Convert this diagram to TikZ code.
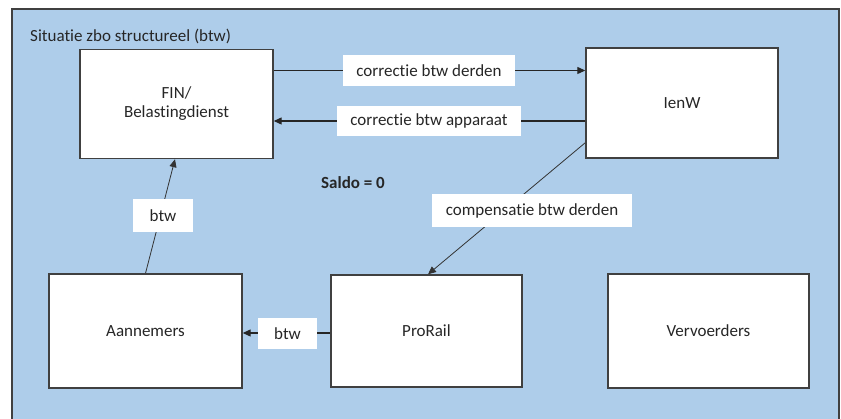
\documentclass[tikz,border=0pt]{standalone}
\usepackage{fontspec}
\setmainfont{Carlito}[Ligatures=NoCommon]
\usepackage{tikz}
\usetikzlibrary{arrows.meta}
\pgfdeclarelayer{back}
\pgfdeclarelayer{bg}
\pgfsetlayers{back,bg,main}
\definecolor{panelblue}{RGB}{174,205,234}
\definecolor{framegray}{RGB}{64,64,64}

\begin{document}
\begin{tikzpicture}[x=1pt, y=-1pt,
    party/.style={draw=framegray, line width=1.4pt, fill=white, inner sep=0pt,
        align=center, text=black!85, font=\fontsize{17}{19}\selectfont},
    tag/.style={fill=white, inner sep=0pt, text=black!85, font=\fontsize{17}{19}\selectfont},
    flow/.style={-{Triangle[length=8pt,width=7pt]}, draw=black!85, line width=1.2pt},
    thin flow/.style={-{Triangle[length=8pt,width=7pt]}, draw=black!80, line width=0.8pt}]
    \useasboundingbox (0,0) rectangle (841,419);
    \clip (0,0) rectangle (841,419);

    \node (fin) [party, minimum width=193pt, minimum height=109pt] at (176.5,104) {FIN/\\Belastingdienst};
    \node (ienw) [party, minimum width=192pt, minimum height=110pt] at (682,103) {IenW};
    \node (aann) [party, minimum width=193pt, minimum height=114pt] at (145.5,331) {Aannemers};
    \node (prorail) [party, minimum width=191pt, minimum height=112pt] at (426.5,331) {ProRail};
    \node (vervoer) [party, minimum width=201pt, minimum height=114pt] at (708.5,331) {Vervoerders};

    \node (cderden) [tag, minimum width=172pt, minimum height=31pt] at (429,70.5) {correctie btw derden};
    \node (capp) [tag, minimum width=184pt, minimum height=30pt] at (429,121) {correctie btw apparaat};
    \node (comp) [tag, minimum width=200pt, minimum height=33pt] at (532,211) {compensatie btw derden};
    \node (btwup) [tag, minimum width=60pt, minimum height=33pt] at (163,215.5) {btw};
    \node (btwleft) [tag, minimum width=59pt, minimum height=31pt] at (287.5,333.5) {btw};

    \node (saldo) [inner sep=0pt, text=black!85, font=\fontsize{17}{19}\selectfont\bfseries] at (353,183) {Saldo = 0};
    \node (title) [anchor=west, inner sep=0pt, text=black!85, font=\fontsize{17}{19}\selectfont] at (30,36) {Situatie zbo structureel (btw)};

    \begin{pgfonlayer}{back}
        \draw [fill=panelblue, draw=framegray, line width=1.4pt] (12,9) rectangle (839,440);
    \end{pgfonlayer}

    \begin{pgfonlayer}{bg}
        \draw [flow] (fin.east |- cderden) -- (ienw.west |- cderden);
        \draw [flow] (ienw.west |- capp) -- (fin.east |- capp);
        \draw [thin flow] ([yshift=16pt]ienw.south west) -- ([xshift=1.5pt]prorail.north);
        \draw [thin flow] (aann.north) -- ([xshift=-1.5pt]fin.south);
        \draw [flow] ([yshift=-2pt]prorail.west) -- ([yshift=-2pt]aann.east);
    \end{pgfonlayer}
\end{tikzpicture}
\end{document}
